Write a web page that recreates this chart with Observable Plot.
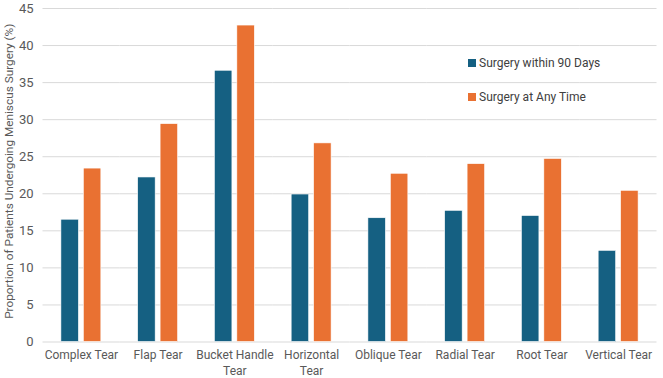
<!DOCTYPE html>
<html>
<head>
<meta charset="utf-8">
<script src="https://cdn.jsdelivr.net/npm/d3@7"></script>
<script src="https://cdn.jsdelivr.net/npm/@observablehq/plot@0.6"></script>
<style>
  html, body { margin: 0; padding: 0; background: #fff; }
  #chart { position: relative; width: 663px; height: 378px; font-family: Roboto, "Open Sans", sans-serif; }
  .legend { position: absolute; left: 468px; font-size: 12px; color: #404040; display: flex; align-items: center; }
  .legend .sw { width: 8px; height: 8px; margin-right: 3px; }
</style>
</head>
<body>
<div id="chart"></div>
<script>
// Meniscus tear types along the x axis (line breaks as set in the axis labels)
const categories = ["Complex Tear", "Flap Tear", "Bucket Handle\nTear", "Horizontal\nTear", "Oblique Tear", "Radial Tear", "Root Tear", "Vertical Tear"];
const seriesNames = ["Surgery within 90 Days", "Surgery at Any Time"];
const seriesColors = ["#156082", "#E97132"];
// Proportion of patients undergoing meniscus surgery (%)
const within90Days = [16.5, 22.2, 36.6, 19.9, 16.7, 17.7, 17.0, 12.3];
const atAnyTime = [23.4, 29.4, 42.7, 26.8, 22.7, 24.0, 24.7, 20.4];
const yTicks = [0, 5, 10, 15, 20, 25, 30, 35, 40, 45];
const yTitle = "Proportion of Patients Undergoing Meniscus Surgery (%)";

const rows = [];
categories.forEach((c, i) => {
  rows.push({ tear: c, series: seriesNames[0], value: within90Days[i] });
  rows.push({ tear: c, series: seriesNames[1], value: atAnyTime[i] });
});

const chart = Plot.plot({
  width: 663,
  height: 378,
  marginTop: 8,
  marginBottom: 36.5,
  marginLeft: 42.5,
  marginRight: 6.5,
  style: { fontFamily: "Roboto, 'Open Sans', sans-serif", background: "#fff", color: "#595959", overflow: "visible" },
  fx: { domain: categories, padding: 0, round: false, label: null, axis: null },
  x: { domain: seriesNames, paddingInner: 0.22, paddingOuter: 0.82, round: false, axis: null },
  y: { domain: [0, 45], label: null },
  color: { domain: seriesNames, range: seriesColors },
  marks: [
    Plot.gridY(yTicks, { stroke: "#d9d9d9", strokeOpacity: 1, strokeWidth: 1 }),
    Plot.barY(rows, { fx: "tear", x: "series", y: "value", fill: "series", stroke: "#fff", strokeWidth: 0.6 }),
    Plot.axisY(yTicks, {
      tickSize: 0, tickPadding: 9.5, fontSize: 13, fill: "#595959",
      label: yTitle, labelAnchor: "center", labelOffset: 38
    }),
    Plot.axisFx({ anchor: "bottom", tickSize: 0, tickPadding: 6, fontSize: 12, fill: "#595959", lineHeight: 1.32, label: null })
  ]
});
// y title: plain text, no direction arrow, slightly smaller
chart.querySelectorAll("text").forEach(t => {
  if (t.textContent.includes("Proportion")) {
    t.textContent = yTitle;
    t.setAttribute("font-size", "11.8");
    t.setAttribute("dx", "4");
  }
});
document.getElementById("chart").appendChild(chart);

// Legend entries placed inside the plot area
const legendTops = [56, 90];
seriesNames.forEach((name, i) => {
  const el = document.createElement("div");
  el.className = "legend";
  el.style.top = legendTops[i] + "px";
  el.innerHTML = `<span class="sw" style="background:${seriesColors[i]}"></span><span>${name}</span>`;
  document.getElementById("chart").appendChild(el);
});
</script>
</body>
</html>
